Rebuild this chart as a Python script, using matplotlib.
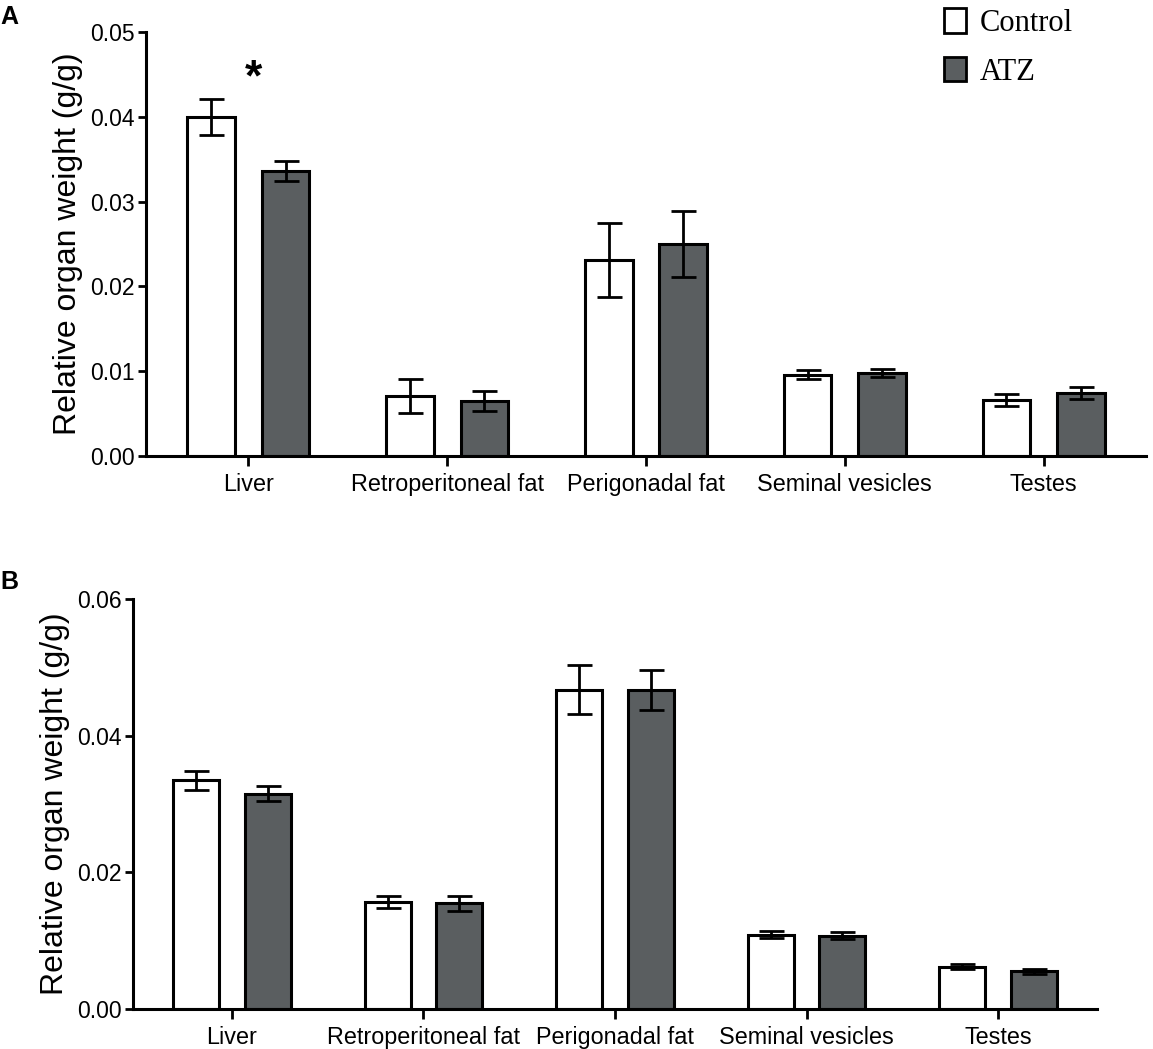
import numpy as np
import matplotlib
matplotlib.use("Agg")
import matplotlib.pyplot as plt
from matplotlib.patches import Patch

organs = ['Liver', 'Retroperitoneal fat', 'Perigonadal fat', 'Seminal vesicles', 'Testes']
groups = ['Control', 'ATZ']

# panel A
a_control = [0.0400, 0.0071, 0.0231, 0.0096, 0.0066]
a_control_err = [0.0021, 0.0020, 0.0044, 0.0005, 0.0007]
a_atz = [0.0336, 0.0065, 0.0250, 0.0098, 0.0074]
a_atz_err = [0.0012, 0.0012, 0.0039, 0.0005, 0.0007]

# panel B
b_control = [0.0335, 0.0157, 0.0467, 0.0109, 0.0062]
b_control_err = [0.0014, 0.0009, 0.0036, 0.0005, 0.0004]
b_atz = [0.0315, 0.0155, 0.0467, 0.0107, 0.0055]
b_atz_err = [0.0011, 0.0011, 0.0029, 0.0005, 0.0004]

white = 'white'
dark = '#5a5e60'
sans = 'Liberation Sans'
serif = 'Liberation Serif'

plt.rcParams['font.family'] = sans


def draw_panel(ax, ctrl, ctrl_err, atz, atz_err, ymax, yticks):
    x = np.arange(len(organs))
    w = 0.24
    off = 0.187
    ekw = dict(elinewidth=2.0, capthick=2.0, ecolor='black')
    ax.bar(x - off, ctrl, w, color=white, edgecolor='black', linewidth=2.2,
           yerr=ctrl_err, capsize=9, error_kw=ekw, zorder=2)
    ax.bar(x + off, atz, w, color=dark, edgecolor='black', linewidth=2.2,
           yerr=atz_err, capsize=9, error_kw=ekw, zorder=2)
    ax.set_xlim(-0.515, len(organs) - 1 + 0.515)
    ax.set_ylim(0, ymax)
    ax.set_yticks(yticks)
    ax.set_yticklabels(['%.2f' % t for t in yticks])
    ax.set_xticks(x)
    ax.set_xticklabels(organs)
    for s in ['top', 'right']:
        ax.spines[s].set_visible(False)
    for s in ['left', 'bottom']:
        ax.spines[s].set_linewidth(2.2)
    ax.tick_params(axis='y', labelsize=16.5, width=2, length=6, pad=2)
    ax.tick_params(axis='x', labelsize=16.8, width=2, length=7, pad=5)
    ax.set_ylabel('Relative organ weight (g/g)', fontsize=23, labelpad=5)


fig = plt.figure(figsize=(11.53, 10.49), dpi=100)

ax_a = fig.add_axes([146 / 1153, 1 - 456 / 1049, 1000 / 1153, 424 / 1049])
draw_panel(ax_a, a_control, a_control_err, a_atz, a_atz_err,
           0.05, [0.0, 0.01, 0.02, 0.03, 0.04, 0.05])
ax_a.text(0.028, 0.0445, '*', fontsize=32, fontweight='bold',
          ha='center', va='center')

ax_b = fig.add_axes([133 / 1153, 1 - 1009 / 1049, 964 / 1153, 410 / 1049])
draw_panel(ax_b, b_control, b_control_err, b_atz, b_atz_err,
           0.06, [0.0, 0.02, 0.04, 0.06])

fig.text(0 / 1153, 1 - 5 / 1049, 'A', fontsize=18, fontweight='bold',
         ha='left', va='top')
fig.text(0 / 1153, 1 - 570 / 1049, 'B', fontsize=18, fontweight='bold',
         ha='left', va='top')

handles = [Patch(facecolor=white, edgecolor='black', linewidth=2),
           Patch(facecolor=dark, edgecolor='black', linewidth=2)]
fig.legend(handles, groups, loc='upper left',
           bbox_to_anchor=(932 / 1153, 1 + 4 / 1049), frameon=False,
           prop={'family': serif, 'size': 22}, handlelength=0.7,
           handleheight=0.85, handletextpad=0.45, labelspacing=0.62,
           borderaxespad=0)

fig.savefig('out.png', dpi=100)
